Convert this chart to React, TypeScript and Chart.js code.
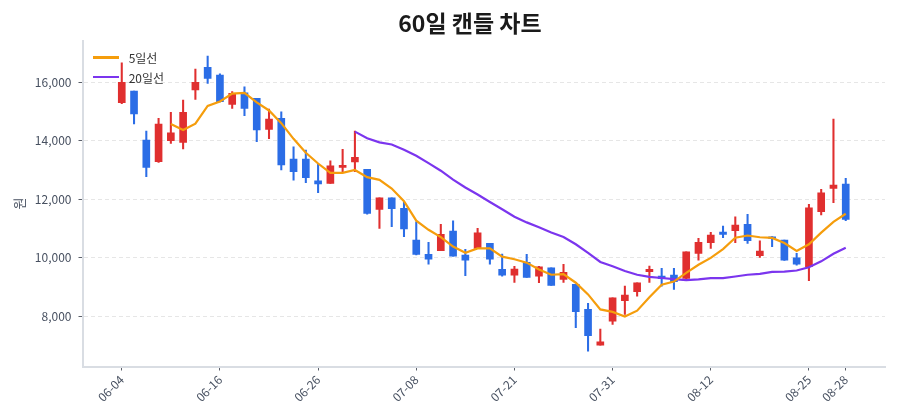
import React, { useEffect, useRef } from 'react';
import { Chart, registerables } from 'chart.js';

Chart.register(...registerables);

const FONT = '"Noto Sans CJK KR", "Noto Sans", sans-serif';

const dates = [
  '06-04', '06-05', '06-06', '06-09', '06-10', '06-11', '06-12', '06-13', '06-16', '06-17',
  '06-18', '06-19', '06-20', '06-23', '06-24', '06-25', '06-26', '06-27', '06-30', '07-01',
  '07-02', '07-03', '07-04', '07-07', '07-08', '07-09', '07-10', '07-11', '07-14', '07-15',
  '07-16', '07-18', '07-21', '07-22', '07-23', '07-24', '07-25', '07-28', '07-29', '07-30',
  '07-31', '08-01', '08-04', '08-05', '08-06', '08-07', '08-08', '08-11', '08-12', '08-13',
  '08-14', '08-18', '08-19', '08-20', '08-21', '08-22', '08-25', '08-26', '08-27', '08-28',
];

const opens = [
  15294, 15694, 14019, 13276, 13995, 13940, 15729, 16505, 16241, 15239,
  15636, 15445, 14384, 14761, 13369, 13369, 12627, 12538, 13085, 13266,
  13016, 11648, 12045, 11683, 10599, 10109, 10233, 10906, 10086, 10315,
  10486, 9596, 9401, 9836, 9367, 9651, 9254, 9083, 8228, 7008,
  7828, 8523, 8830, 9514, 9367, 9401, 9287, 10144, 10506, 10872,
  10917, 11135, 10062, 10711, 10599, 9993, 9685, 11566, 12367, 12514,
];

const highs = [
  16662, 15694, 14326, 14761, 14966, 15387, 16447, 16891, 16280, 15671,
  15841, 15445, 15079, 14986, 13789, 13677, 13187, 13311, 13700, 14326,
  13016, 12045, 12045, 11900, 11224, 10520, 11135, 11259, 10280, 10999,
  10486, 10120, 9699, 10109, 9700, 9651, 9767, 9083, 8434, 7555,
  8625, 9025, 9138, 9709, 9631, 9631, 10198, 10657, 10862, 11077,
  11395, 11477, 10575, 10720, 10599, 10144, 11819, 12332, 14737, 12709,
];

const lows = [
  15260, 14566, 12763, 13250, 13906, 13711, 15410, 15958, 15320, 15103,
  14850, 13960, 14063, 12993, 12650, 12558, 12216, 12538, 12934, 12934,
  11480, 10999, 11053, 10711, 10086, 9778, 10233, 10051, 9377, 10315,
  9778, 9367, 9152, 9323, 9138, 9049, 9152, 7599, 6802, 7008,
  7715, 8057, 8683, 9152, 9025, 8912, 9250, 9914, 10315, 10677,
  10506, 10486, 10007, 10369, 9900, 9743, 9207, 11454, 11874, 11259,
];

const closes = [
  15992, 14908, 13085, 14566, 14268, 14966, 15992, 16129, 15329, 15616,
  15103, 14361, 14737, 13164, 12934, 12729, 12514, 13140, 13153, 13427,
  11512, 12045, 11669, 10975, 10109, 9949, 10794, 10051, 9914, 10848,
  9949, 9401, 9607, 9323, 9685, 9049, 9494, 8146, 7326, 7120,
  8625, 8717, 9138, 9596, 9275, 9172, 10198, 10520, 10770, 10793,
  11112, 10575, 10222, 10657, 9914, 9778, 11703, 12216, 12480, 11306,
];

const tickIndices = [0, 8, 16, 24, 32, 40, 48, 56, 59];
const yTickValues = [8000, 10000, 12000, 14000, 16000];
const maShort = 5;
const maLong = 20;

const UP = '#e02f2f';
const DOWN = '#2b6de6';
const MA5_COLOR = '#f59d0c';
const MA20_COLOR = '#7b35ee';

function movingAverage(values: number[], n: number) {
  const out: { x: number; y: number }[] = [];
  for (let i = n - 1; i < values.length; i++) {
    let s = 0;
    for (let k = i - n + 1; k <= i; k++) s += values[k];
    out.push({ x: i, y: s / n });
  }
  return out;
}

export default function App() {
  const ref = useRef<HTMLCanvasElement | null>(null);

  useEffect(() => {
    if (!ref.current) return;
    const colors = closes.map((c, i) => (c >= opens[i] ? UP : DOWN));
    const chart = new Chart(ref.current, {
      type: 'bar',
      data: {
        datasets: [
          {
            type: 'line',
            label: '5일선',
            data: movingAverage(closes, maShort),
            borderColor: MA5_COLOR,
            borderWidth: 2.2,
            pointRadius: 0,
            tension: 0,
            order: 0,
          },
          {
            type: 'line',
            label: '20일선',
            data: movingAverage(closes, maLong),
            borderColor: MA20_COLOR,
            borderWidth: 2.2,
            pointRadius: 0,
            tension: 0,
            order: 0,
          },
          {
            type: 'bar',
            label: 'body',
            data: opens.map((o, i) => ({ x: i, y: [o, closes[i]] })),
            backgroundColor: colors,
            barThickness: 7,
            grouped: false,
            minBarLength: 1,
            order: 1,
          },
          {
            type: 'bar',
            label: 'wick',
            data: lows.map((l, i) => ({ x: i, y: [l, highs[i]] })),
            backgroundColor: colors,
            barThickness: 1.4,
            grouped: false,
            order: 2,
          },
        ] as any,
      },
      options: {
        animation: false,
        responsive: true,
        maintainAspectRatio: false,
        layout: { padding: { left: 0, right: 15, top: 40.7, bottom: 0 } },
        plugins: {
          legend: { display: false },
          title: { display: false },
          tooltip: { enabled: false },
        },
        scales: {
          x: {
            type: 'linear',
            offset: false,
            min: -3.2,
            max: 62.2,
            afterBuildTicks: (s: any) => {
              s.ticks = tickIndices.map((v) => ({ value: v }));
            },
            afterFit: (s: any) => {
              s.height = 53.5;
            },
            ticks: {
              autoSkip: false,
              maxRotation: 45,
              minRotation: 45,
              padding: 2,
              color: '#475060',
              font: { family: FONT, size: 12 },
              callback: (v: any) => dates[v as number],
            },
            grid: {
              offset: false,
              drawOnChartArea: false,
              drawTicks: true,
              tickLength: 4,
              tickColor: '#5a5f69',
              tickWidth: 1,
            },
            border: { color: '#d9dde3', width: 2 },
          },
          y: {
            type: 'linear',
            min: 6275,
            max: 17415,
            afterBuildTicks: (s: any) => {
              s.ticks = yTickValues.map((v) => ({ value: v }));
            },
            afterFit: (s: any) => {
              s.width = 82.5;
            },
            ticks: {
              padding: 7,
              color: '#475060',
              font: { family: FONT, size: 12 },
              callback: (v: any) => Number(v).toLocaleString('en-US'),
            },
            grid: {
              color: '#e6e6e6',
              lineWidth: 1,
              drawTicks: true,
              tickLength: 4,
              tickColor: '#5a5f69',
              tickWidth: 1,
            },
            border: { color: '#d9dde3', width: 2, dash: [4, 3] },
            title: {
              display: true,
              text: '원',
              color: '#475060',
              font: { family: FONT, size: 13 },
              padding: { top: 11, bottom: 0 },
            },
          },
        },
      } as any,
    });
    return () => chart.destroy();
  }, []);

  const legendRow = (top: number, color: string, text: string) => (
    <div
      style={{
        position: 'absolute',
        left: 92.7,
        top,
        height: 16,
        display: 'flex',
        alignItems: 'center',
        fontFamily: FONT,
        fontSize: 12,
        color: '#333',
        whiteSpace: 'nowrap',
      }}
    >
      <div style={{ width: 26.3, height: 2.7, background: color, marginRight: 9.7 }} />
      <span>{text}</span>
    </div>
  );

  return (
    <div
      style={{
        position: 'fixed',
        left: 0,
        top: 0,
        width: 900,
        height: 420,
        background: '#fff',
      }}
    >
      <canvas ref={ref} />
      <div
        style={{
          position: 'absolute',
          left: 470,
          top: 8,
          transform: 'translateX(-50%)',
          fontFamily: FONT,
          fontWeight: 700,
          fontSize: 23,
          lineHeight: '28px',
          color: '#1a1a1a',
          whiteSpace: 'nowrap',
        }}
      >
        60일 캔들 차트
      </div>
      {legendRow(49.7, MA5_COLOR, '5일선')}
      {legendRow(69, MA20_COLOR, '20일선')}
    </div>
  );
}
